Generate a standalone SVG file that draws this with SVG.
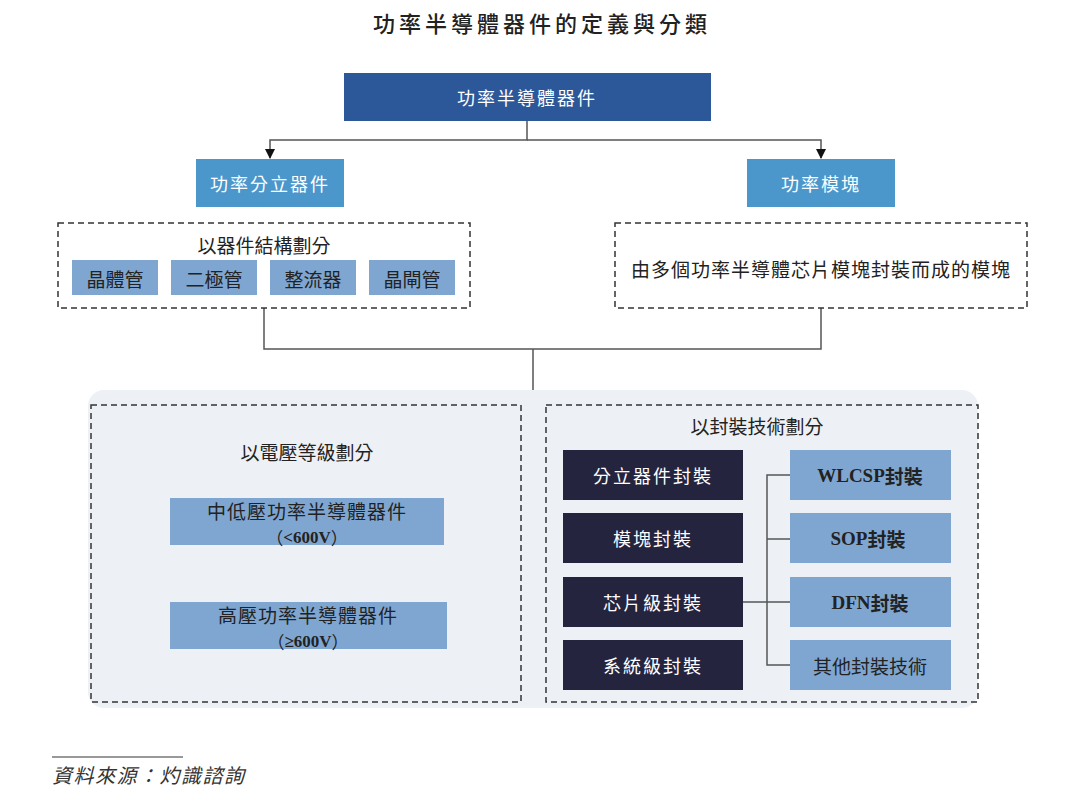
<svg xmlns="http://www.w3.org/2000/svg" width="1080" height="798" viewBox="0 0 1080 798">
<style>
text{font-family:"Noto Sans CJK TC","Noto Sans CJK SC",sans-serif;text-anchor:middle;dominant-baseline:central}
.title{font-size:22px;font-weight:500;fill:#222;letter-spacing:4px}
.w{fill:#fff;font-size:18px;letter-spacing:2px}
.d{fill:#222;font-size:19px}
.dash{fill:none;stroke:#333;stroke-width:1.5;stroke-dasharray:6 4}
.top{fill:#2C5899}
.mid{fill:#4B97CC}
.lt{fill:#7FA6D1}
.dk{fill:#25243F}
.ser{font-family:"Liberation Serif","Noto Sans CJK TC",serif;font-weight:bold}
.conn{fill:none;stroke:#555;stroke-width:1.5}
.l2{font-size:17px}
</style>
<defs>
<marker id="arr" viewBox="0 0 10 10" refX="9" refY="5" markerWidth="10" markerHeight="10" orient="auto" markerUnits="userSpaceOnUse"><path d="M0,0L10,5L0,10z" fill="#111"/></marker>
</defs>
<rect width="1080" height="798" fill="#fff"/>
<text class="title" x="542" y="22">功率半導體器件的定義與分類</text>

<rect x="88" y="390" width="890" height="318" rx="16" fill="#EDF0F4"/>

<g id="connectors">
<path class="conn" d="M527,121V140H270V158" marker-end="url(#arr)"/>
<path class="conn" d="M527,140H821V158" marker-end="url(#arr)"/>
<path class="conn" d="M264,308V349H821V308"/>
<path class="conn" d="M533,349V390"/>
<path class="conn" d="M790,475H767V665H790M767,539H790M743,602H790"/>
</g>

<g id="n_root"><rect class="top" x="344" y="73" width="367" height="48"/><text class="w" x="527" y="97">功率半導體器件</text></g>
<g id="n_discrete"><rect class="mid" x="196" y="159" width="148" height="48"/><text class="w" x="270" y="183">功率分立器件</text></g>
<g id="n_module"><rect class="mid" x="747" y="159" width="148" height="48"/><text class="w" x="821" y="183">功率模塊</text></g>

<g id="g_structure">
<rect class="dash" x="58" y="223" width="412" height="85"/>
<text class="d" x="264" y="244">以器件結構劃分</text>
<g id="n_transistor"><rect class="lt" x="72" y="260" width="86" height="35"/><text class="d" x="115" y="278">晶體管</text></g>
<g id="n_diode"><rect class="lt" x="171" y="260" width="86" height="35"/><text class="d" x="214" y="278">二極管</text></g>
<g id="n_rectifier"><rect class="lt" x="270" y="260" width="86" height="35"/><text class="d" x="313" y="278">整流器</text></g>
<g id="n_thyristor"><rect class="lt" x="369" y="260" width="86" height="35"/><text class="d" x="412" y="278">晶閘管</text></g>
</g>

<g id="g_moduledesc">
<rect class="dash" x="615" y="223" width="412" height="85"/>
<text class="d" x="821" y="268" style="letter-spacing:1px">由多個功率半導體芯片模塊封裝而成的模塊</text>
</g>

<g id="g_voltage">
<rect class="dash" x="91" y="405" width="430" height="297"/>
<text class="d" x="307" y="451">以電壓等級劃分</text>
<g id="n_lowv"><rect class="lt" x="170" y="498" width="274" height="47"/>
<text class="d" x="307" y="510" style="letter-spacing:1px">中低壓功率半導體器件</text>
<text class="d l2" x="307" y="537"><tspan>（</tspan><tspan class="ser">&lt;600V</tspan><tspan>）</tspan></text></g>
<g id="n_highv"><rect class="lt" x="170" y="602" width="277" height="47"/>
<text class="d" x="308" y="614" style="letter-spacing:1px">高壓功率半導體器件</text>
<text class="d l2" x="308" y="641"><tspan>（</tspan><tspan class="ser">≥600V</tspan><tspan>）</tspan></text></g>
</g>

<g id="g_package">
<rect class="dash" x="546" y="405" width="432" height="297"/>
<text class="d" x="757" y="425">以封裝技術劃分</text>
<g id="n_p1"><rect class="dk" x="563" y="450" width="180" height="50"/><text class="w" x="653" y="475">分立器件封裝</text></g>
<g id="n_p2"><rect class="dk" x="563" y="513" width="180" height="50"/><text class="w" x="653" y="538">模塊封裝</text></g>
<g id="n_p3"><rect class="dk" x="563" y="577" width="180" height="50"/><text class="w" x="653" y="602">芯片級封裝</text></g>
<g id="n_p4"><rect class="dk" x="563" y="640" width="180" height="50"/><text class="w" x="653" y="665">系統級封裝</text></g>
<g id="n_q1"><rect class="lt" x="790" y="450" width="161" height="50"/><text class="d" x="870" y="475"><tspan class="ser">WLCSP</tspan><tspan font-weight="bold">封裝</tspan></text></g>
<g id="n_q2"><rect class="lt" x="790" y="513" width="161" height="50"/><text class="d" x="868" y="538"><tspan class="ser">SOP</tspan><tspan font-weight="bold">封裝</tspan></text></g>
<g id="n_q3"><rect class="lt" x="790" y="577" width="161" height="50"/><text class="d" x="870" y="602"><tspan class="ser">DFN</tspan><tspan font-weight="bold">封裝</tspan></text></g>
<g id="n_q4"><rect class="lt" x="790" y="640" width="161" height="50"/><text class="d" x="870" y="665">其他封裝技術</text></g>
</g>

<line x1="52" y1="757" x2="183" y2="757" stroke="#333" stroke-width="1"/>
<text x="52" y="776" style="text-anchor:start;font-family:'Liberation Serif','Noto Sans CJK TC',serif;font-style:italic;font-size:20px;letter-spacing:1.5px;fill:#333">資料來源：灼識諮詢</text>
</svg>
